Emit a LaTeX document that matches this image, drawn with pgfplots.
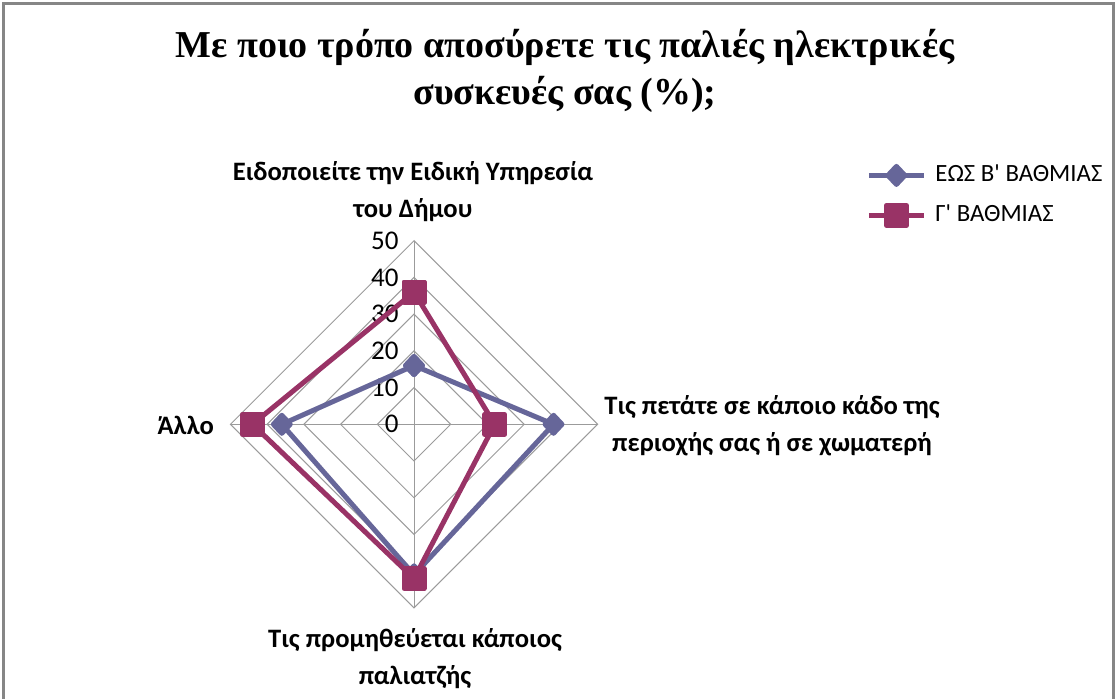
\documentclass[border=0pt]{standalone}
\usepackage{pgfplots}
\pgfplotsset{compat=1.18}
\usepackage{fontspec}
\setmainfont{Carlito}
\newfontfamily\titlefont{Liberation Serif}
\definecolor{serA}{RGB}{102,102,153}
\definecolor{serB}{RGB}{153,51,102}
\definecolor{gridc}{RGB}{155,155,155}
\definecolor{framec}{RGB}{134,134,134}

\begin{document}
\begin{tikzpicture}
% page laid out in pixels of the reference (1px = 0.5pt, y downwards)
\begin{scope}[x=0.5pt,y=-0.5pt]
\useasboundingbox (0,0) rectangle (1117,699);
\draw[framec,line width=1.5pt] (3.5,3.5) rectangle (1113.5,740);
\node[font=\titlefont\bfseries\fontsize{19}{23.5}\selectfont, align=center]
  at (565,71) {Με ποιο τρόπο αποσύρετε τις παλιές ηλεκτρικές\\συσκευές σας (\%);};
\begin{scope}[every node/.style={font=\bfseries\fontsize{13.3}{18.5}\selectfont, align=center}]
\node at (413,192) {Ειδοποιείτε την Ειδική Υπηρεσία\\του Δήμου};
\node at (772,426) {Τις πετάτε σε κάποιο κάδο της\\περιοχής σας ή σε χωματερή};
\node at (415,659) {Τις προμηθεύεται κάποιος\\παλιατζής};
\node[anchor=east] at (221,425) {Άλλο};
\end{scope}
\end{scope}

\begin{axis}[
  at={(207pt,-212.15pt)}, anchor=center,
  scale only axis, width=183.6pt, height=183.6pt,
  xmin=-50, xmax=50, ymin=-50, ymax=50,
  hide axis, clip=false,
  legend cell align=left,
  legend style={at={(1.731,1.2116)}, anchor=north west, draw=none, fill=none,
    inner sep=0pt, row sep=8pt, font=\fontsize{12.4}{14}\selectfont,
    nodes={inner sep=0pt, text height=9pt, text depth=3pt},
    /tikz/every odd column/.append style={column sep=4.5pt}},
  legend image code/.code={\draw[mark repeat=2,mark phase=2,#1]
    plot coordinates {(0pt,0pt) (13.75pt,0pt) (27.5pt,0pt)};},
]
% grid: spokes and rings
\draw[gridc, line width=0.5pt] (axis cs:0,-50) -- (axis cs:0,50);
\draw[gridc, line width=0.5pt] (axis cs:-50,0) -- (axis cs:50,0);
\pgfplotsinvokeforeach{10,20,30,40,50}{
  \draw[gridc, line width=0.5pt] (axis cs:#1,0) -- (axis cs:0,#1) -- (axis cs:-#1,0) -- (axis cs:0,-#1) -- cycle;
}
\pgfplotsinvokeforeach{0,10,20,30,40,50}{
  \node[anchor=east, inner sep=0pt, font=\fontsize{13.5}{16}\selectfont] at (axis cs:-4.1,#1) {#1};
}

% angle (deg), value (%)
\addplot[serA, line width=2.5pt, line join=round, mark=diamond*, mark size=4.5pt,
  mark options={solid, xscale=1.25}, data cs=polar]
  coordinates {(90,16) (0,38) (-90,41) (180,36) (90,16)};
\addlegendentry{ΕΩΣ Β\textquotesingle{} ΒΑΘΜΙΑΣ}
\addplot[serB, line width=2.5pt, line join=round, mark=square*, mark size=5pt,
  mark options={solid}, data cs=polar]
  coordinates {(90,36) (0,22) (-90,42) (180,44) (90,36)};
\addlegendentry{Γ\textquotesingle{} ΒΑΘΜΙΑΣ}
\end{axis}
\end{tikzpicture}
\end{document}
